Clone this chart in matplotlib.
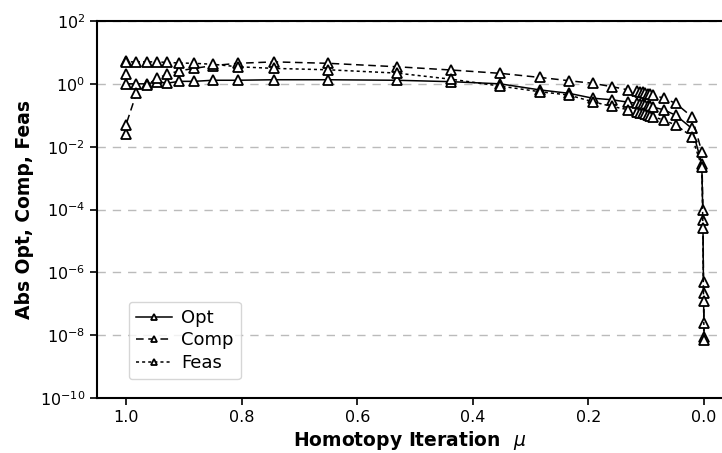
import matplotlib
matplotlib.use("Agg")
import matplotlib.pyplot as plt
from matplotlib.ticker import NullLocator, FixedLocator

mu = [1.0, 1.0, 0.982, 0.963, 0.946, 0.929, 0.908, 0.882, 0.850, 0.807, 0.744, 0.650,
      0.532, 0.437, 0.353, 0.284, 0.234, 0.193, 0.159, 0.131,
      0.1165, 0.111, 0.1065, 0.1025, 0.0975, 0.0935, 0.088,
      0.070, 0.049, 0.021, 0.004, 0.002, 0.001, 0.0]

opt = [2.0, 1.0, 1.0, 1.0, 1.17, 1.05, 1.2, 1.2, 1.3, 1.3, 1.35, 1.35,
       1.3, 1.17, 1.0, 0.64, 0.5, 0.35, 0.31, 0.26,
       0.24, 0.23, 0.22, 0.21, 0.20, 0.19, 0.18,
       0.15, 0.10, 0.038, 0.0029, 4.7e-5, 2.2e-7, 9e-9]

comp = [0.025, 0.05, 0.5, 0.95, 1.5, 2.0, 2.6, 3.1, 3.8, 4.5, 5.0, 4.5,
        3.5, 2.75, 2.16, 1.6, 1.26, 1.04, 0.81, 0.64,
        0.58, 0.55, 0.53, 0.50, 0.48, 0.46, 0.44,
        0.35, 0.24, 0.089, 0.0069, 1e-4, 5e-7, 2.5e-8]

feas = [5.5, 5.0, 5.0, 5.0, 5.0, 4.8, 4.6, 4.5, 4.2, 3.5, 3.1, 2.8,
        2.2, 1.4, 0.85, 0.56, 0.44, 0.27, 0.19, 0.15,
        0.13, 0.12, 0.115, 0.11, 0.10, 0.095, 0.09,
        0.07, 0.049, 0.021, 0.0023, 2.6e-5, 1.2e-7, 7e-9]

x_ticks = [1.0, 0.8, 0.6, 0.4, 0.2, 0.0]
y_ticks = [1e-10, 1e-8, 1e-6, 1e-4, 1e-2, 1e0, 1e2]

fig = plt.figure(figsize=(7.22, 4.53), dpi=100)
ax = fig.add_axes([97/722, 1-398/453, 1-97/722, (398-21)/453])

mk = dict(marker='^', markersize=7, markerfacecolor='white', markeredgecolor='black',
          markeredgewidth=1.3, color='black', linewidth=1.1)
ax.plot(mu, opt, linestyle='-', label='Opt', **mk)
ax.plot(mu, comp, linestyle=(0, (5, 3)), label='Comp', **mk)
ax.plot(mu, feas, linestyle=(0, (2, 2)), label='Feas', **mk)

ax.set_yscale('log')
ax.set_ylim(1e-10, 1e2)
ax.set_xlim(1.0502, -0.031)
ax.yaxis.set_major_locator(FixedLocator(y_ticks))
ax.yaxis.set_minor_locator(NullLocator())
ax.set_xticks(x_ticks)
ax.set_xticklabels(['%.1f' % v for v in x_ticks])

ax.grid(axis='y', color='#bbbbbb', linestyle=(0, (6, 5)), linewidth=1.0)
ax.set_axisbelow(True)
ax.spines['right'].set_visible(False)
for s in ['left', 'bottom', 'top']:
    ax.spines[s].set_linewidth(1.5)
ax.tick_params(axis='both', which='major', labelsize=11.5, length=5, width=1.2, direction='out')

ax.set_xlabel(r'Homotopy Iteration  $\mu$', fontsize=13.5, fontweight='bold', labelpad=3)
ax.set_ylabel('Abs Opt, Comp, Feas', fontsize=13.5, fontweight='bold')

leg = ax.legend(loc='lower left', bbox_to_anchor=(0.051, 0.05), borderaxespad=0,
                fontsize=13, markerscale=0.7, handlelength=2.0, handletextpad=0.5,
                borderpad=0.4, labelspacing=0.25, frameon=True)
leg.get_frame().set_edgecolor('#cccccc')

fig.savefig('out.png', dpi=100)
